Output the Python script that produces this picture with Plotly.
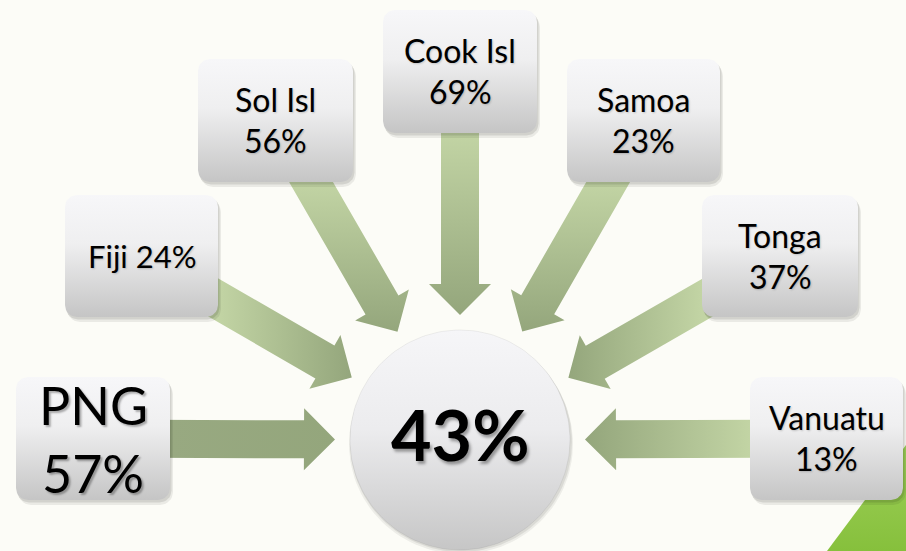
import math
import plotly.graph_objects as go

# ---- data ----
names = ["PNG", "Fiji", "Sol Isl", "Cook Isl", "Samoa", "Tonga", "Vanuatu"]
values = [57, 24, 56, 69, 23, 37, 13]
overall = 43

# ---- layout (pixel space) ----
W, H = 906, 551
BG = "rgb(252,252,247)"
box_x0 = [16, 65, 198, 383, 567, 702, 750]
box_x1 = [170, 218, 353, 537, 720, 858, 903]
box_y0 = [377, 195, 59, 10, 59, 195, 377]
box_y1 = [500, 317, 182, 133, 182, 317, 500]
hub_cx, hub_cy, hub_r = 460, 440, 110
tip_r = 125

fig = go.Figure()


def add_poly(xs, ys, fill=None, grad=None, line=None):
    kw = dict(x=xs + [xs[0]], y=ys + [ys[0]], mode="lines", fill="toself",
              hoverinfo="skip", showlegend=False,
              line=dict(width=0 if line is None else line[1],
                        color="rgba(0,0,0,0)" if line is None else line[0]))
    if grad is not None:
        kw["fillgradient"] = grad
        kw["fillcolor"] = grad["colorscale"][0][1]
    else:
        kw["fillcolor"] = fill
    fig.add_trace(go.Scatter(**kw))


def rrect(x0, y0, x1, y1, r=12, n=8):
    xs, ys = [], []
    corners = [(x1 - r, y0 + r, -90, 0), (x1 - r, y1 - r, 0, 90),
               (x0 + r, y1 - r, 90, 180), (x0 + r, y0 + r, 180, 270)]
    for cx, cy, a0, a1 in corners:
        for i in range(n + 1):
            a = math.radians(a0 + (a1 - a0) * i / n)
            xs.append(cx + r * math.cos(a))
            ys.append(cy + r * math.sin(a))
    return xs, ys


def arrow(bx, by, tx, ty, w=19, hw=31, hl=31):
    dx, dy = tx - bx, ty - by
    L = math.hypot(dx, dy)
    ux, uy = dx / L, dy / L
    nx, ny = -uy, ux
    hx, hy = tx - ux * hl, ty - uy * hl
    pts = [(bx + nx * w, by + ny * w), (hx + nx * w, hy + ny * w),
           (hx + nx * hw, hy + ny * hw), (tx, ty),
           (hx - nx * hw, hy - ny * hw), (hx - nx * w, hy - ny * w),
           (bx - nx * w, by - ny * w)]
    return [p[0] for p in pts], [p[1] for p in pts]


# green corner accent
add_poly([827, 906, 906], [551, 551, 445],
         grad=dict(type="vertical", start=445, stop=551,
                   colorscale=[[0, "#9fd05a"], [1, "#86c03c"]]))

# arrows
light, dark = "#c2d4a4", "#94a67c"
for i in range(len(names)):
    cx = (box_x0[i] + box_x1[i]) / 2
    cy = (box_y0[i] + box_y1[i]) / 2
    d = math.hypot(hub_cx - cx, hub_cy - cy)
    tx = hub_cx - (hub_cx - cx) / d * tip_r
    ty = hub_cy - (hub_cy - cy) / d * tip_r
    xs, ys = arrow(cx, cy, tx, ty)
    horizontal = abs(hub_cx - cx) > abs(hub_cy - cy)
    if horizontal:
        if i == 0:
            cs = [[0, "#98a981"], [1, "#94a67c"]]
        else:
            cs = [[0, dark], [1, light]] if cx > tx else [[0, light], [1, dark]]
        if cx > tx:
            g = dict(type="horizontal", start=tx, stop=box_x0[i], colorscale=cs)
        else:
            g = dict(type="horizontal", start=box_x1[i], stop=tx, colorscale=cs)
    else:
        g = dict(type="vertical", start=box_y1[i], stop=ty,
                 colorscale=[[0, light], [1, dark]])
    add_poly(xs, ys, grad=g)

# box shadows and boxes
for i in range(len(names)):
    xs, ys = rrect(box_x0[i] + 2, box_y0[i] + 4, box_x1[i] + 3, box_y1[i] + 5, 13)
    add_poly(xs, ys, fill="rgba(0,0,0,0.07)")
    xs, ys = rrect(box_x0[i] + 1, box_y0[i] + 2, box_x1[i] + 1.5, box_y1[i] + 2.5, 12)
    add_poly(xs, ys, fill="rgba(0,0,0,0.10)")
for i in range(len(names)):
    xs, ys = rrect(box_x0[i], box_y0[i], box_x1[i], box_y1[i], 12)
    add_poly(xs, ys, grad=dict(type="vertical", start=box_y0[i], stop=box_y1[i],
                               colorscale=[[0, "#f7f7f9"], [0.4, "#efeff0"],
                                           [1, "#c5c5c5"]]))

# hub circle
for off, a in [(4, 0.06), (2, 0.08)]:
    ang = [2 * math.pi * k / 120 for k in range(120)]
    add_poly([hub_cx + 1 + (hub_r + off / 2) * math.cos(t) for t in ang],
             [hub_cy + off + (hub_r) * math.sin(t) for t in ang],
             fill=f"rgba(0,0,0,{a})")
ang = [2 * math.pi * k / 160 for k in range(160)]
add_poly([hub_cx + hub_r * math.cos(t) for t in ang],
         [hub_cy + hub_r * math.sin(t) for t in ang],
         grad=dict(type="vertical", start=hub_cy - hub_r, stop=hub_cy + hub_r,
                   colorscale=[[0, "#f6f6f8"], [0.45, "#ececee"], [1, "#c6c6c6"]]),
         line=("rgba(0,0,0,0.06)", 1))

# ---- text ----
FONT = "Lato, 'Open Sans', sans-serif"


def label(x, y, text, size, bold=False, shadow="1px 1px 2px rgba(0,0,0,0.18)"):
    fig.add_annotation(x=x, y=y, text=f"<b>{text}</b>" if bold else text,
                       showarrow=False, xanchor="center", yanchor="middle",
                       font=dict(family=FONT, size=size, color="#000000",
                                 shadow=shadow))


for i, (nm, v) in enumerate(zip(names, values)):
    cx = (box_x0[i] + box_x1[i]) / 2
    cy = (box_y0[i] + box_y1[i]) / 2
    if nm == "PNG":
        label(cx, cy - 34, nm, 52, shadow="2px 2px 2px rgba(0,0,0,0.3)")
        label(cx, cy + 34, f"{v}%", 52, shadow="2px 2px 2px rgba(0,0,0,0.3)")
    elif nm == "Fiji":
        label(cx + 1, cy, f"{nm} {v}%", 31)
    else:
        label(cx, cy - 21, nm, 32)
        label(cx, cy + 20, f"{v}%", 32)

label(hub_cx, hub_cy - 6, f"{overall}%", 70, bold=True,
      shadow="2px 3px 3px rgba(0,0,0,0.35)")

fig.update_layout(
    width=W, height=H, margin=dict(l=0, r=0, t=0, b=0),
    paper_bgcolor=BG, plot_bgcolor=BG,
    xaxis=dict(range=[0, W], visible=False, fixedrange=True),
    yaxis=dict(range=[H, 0], visible=False, fixedrange=True),
    showlegend=False,
)
fig.write_html("out.html", config={"displayModeBar": False},
               post_script="document.body.style.margin='0';"
                           "document.body.style.overflow='hidden';"
                           f"document.body.style.background='{BG}';")
